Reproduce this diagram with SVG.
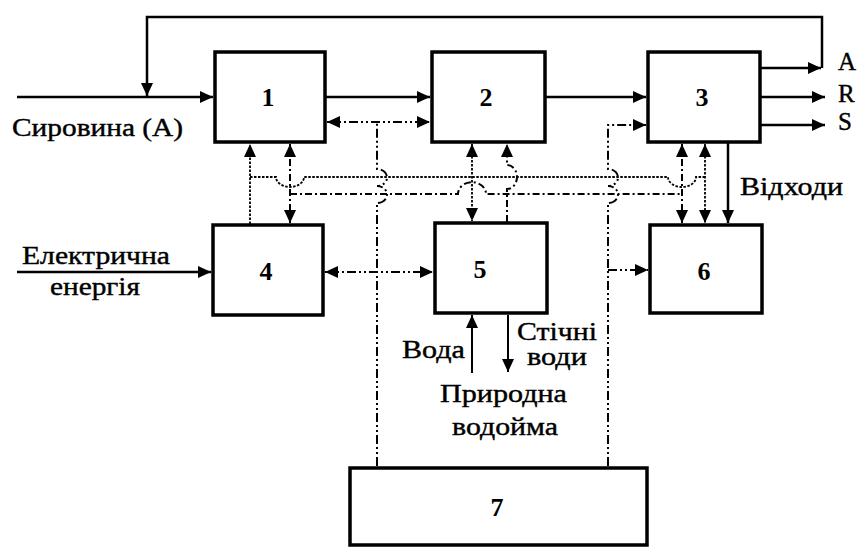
<svg xmlns="http://www.w3.org/2000/svg" width="862" height="548" viewBox="0 0 862 548">
<style>
.box{fill:#fff;stroke:#000;stroke-width:3.5}
.solid{fill:none;stroke:#000;stroke-width:2.5}
.thin{fill:none;stroke:#000;stroke-width:2}
.dot{fill:none;stroke:#000;stroke-width:1.8;stroke-dasharray:2.5 1.5}
.dd{fill:none;stroke:#000;stroke-width:2;stroke-dasharray:7 3 2 3}
.ctrl{fill:none;stroke:#000;stroke-width:2;stroke-dasharray:9 3 2 3 2 3}
.lbl{font-family:"Liberation Serif","DejaVu Serif",serif;font-size:25px;fill:#000;stroke:#000;stroke-width:0.4}
.num{font-family:"Liberation Serif","DejaVu Serif",serif;font-size:26px;font-weight:bold;text-anchor:middle;fill:#000}
</style>
<defs>
<marker id="ah" markerUnits="userSpaceOnUse" markerWidth="14" markerHeight="12" refX="13" refY="6" orient="auto-start-reverse">
<path d="M0,0 L13,6 L0,12 z" fill="#000"/>
</marker>
</defs>
<g id="connectors">
<path class="solid" d="M17,97 L213,97" marker-end="url(#ah)"/>
<path class="solid" d="M760,68 L821,68" marker-end="url(#ah)"/>
<path class="solid" d="M822,68 L822,17 L147,17 L147,96" marker-end="url(#ah)"/>
<path class="solid" d="M760,97 L825,97" marker-end="url(#ah)"/>
<path class="solid" d="M760,125 L825,125" marker-end="url(#ah)"/>
<path class="solid" d="M325,97 L430,97" marker-end="url(#ah)"/>
<path class="solid" d="M545,97 L646,97" marker-end="url(#ah)"/>
<path class="solid" d="M17,272 L211,272" marker-end="url(#ah)"/>
<path class="solid" d="M728,142 L728,223" marker-end="url(#ah)"/>
<path class="thin" d="M472,373 L472,315" marker-end="url(#ah)"/>
<path class="thin" d="M508,315 L508,372" marker-end="url(#ah)"/>
<path class="ctrl" d="M377,466 L377,203 A10,8.5 0 0 0 377,186 A10,8.5 0 0 0 377,169 L377,122"/>
<path class="ctrl" d="M327,122 L430,122" marker-start="url(#ah)" marker-end="url(#ah)"/>
<path class="ctrl" d="M325,272 L433,272" marker-start="url(#ah)" marker-end="url(#ah)"/>
<path class="ctrl" d="M608,466 L608,203 A10,8.5 0 0 0 608,186 A10,8.5 0 0 0 608,169 L608,125 L646,125" marker-end="url(#ah)"/>
<path class="ctrl" d="M608,270 L648,270" marker-end="url(#ah)"/>
<path class="dot" d="M250,224 L250,144" marker-end="url(#ah)"/>
<path class="dot" d="M250,177 L276,177 A14,10 0 0 0 304,177 L668,177 A14,10 0 0 0 696,177 L705,177"/>
<path class="dot" d="M472,144 L472,221" marker-start="url(#ah)" marker-end="url(#ah)"/>
<path class="dot" d="M705,144 L705,223" marker-start="url(#ah)" marker-end="url(#ah)"/>
<path class="dd" d="M290,144 L290,223" marker-start="url(#ah)" marker-end="url(#ah)"/>
<path class="dd" d="M290,194 L458,194 A13,11 0 0 1 486,194 L682,194"/>
<path class="dd" d="M507,222 L507,189 A10,12 0 0 0 507,165 L507,144" marker-end="url(#ah)"/>
<path class="dd" d="M682,144 L682,223" marker-start="url(#ah)" marker-end="url(#ah)"/>
</g>
<g id="node1"><rect class="box" x="215" y="52" width="110" height="90"/><text class="num" x="268" y="106">1</text></g>
<g id="node2"><rect class="box" x="432" y="52" width="113" height="90"/><text class="num" x="486" y="106">2</text></g>
<g id="node3"><rect class="box" x="648" y="52" width="112" height="90"/><text class="num" x="702" y="106">3</text></g>
<g id="node4"><rect class="box" x="213" y="225" width="110" height="90"/><text class="num" x="266" y="280">4</text></g>
<g id="node5"><rect class="box" x="435" y="223" width="112" height="90"/><text class="num" x="480" y="278">5</text></g>
<g id="node6"><rect class="box" x="650" y="225" width="112" height="88"/><text class="num" x="704" y="280">6</text></g>
<g id="node7"><rect class="box" x="350" y="468" width="297" height="77"/><text class="num" x="497" y="516">7</text></g>
<g id="labels">
<text class="lbl" x="12" y="136" textLength="171" lengthAdjust="spacingAndGlyphs">Сировина (А)</text>
<text class="lbl" x="22" y="264" textLength="148" lengthAdjust="spacingAndGlyphs">Електрична</text>
<text class="lbl" x="50" y="295" textLength="90" lengthAdjust="spacingAndGlyphs">енергія</text>
<text class="lbl" x="740" y="195" textLength="103" lengthAdjust="spacingAndGlyphs">Відходи</text>
<text class="lbl" x="402" y="358" textLength="63" lengthAdjust="spacingAndGlyphs">Вода</text>
<text class="lbl" x="517" y="340" textLength="80" lengthAdjust="spacingAndGlyphs">Стічні</text>
<text class="lbl" x="527" y="365" textLength="60" lengthAdjust="spacingAndGlyphs">води</text>
<text class="lbl" x="440" y="402" textLength="127" lengthAdjust="spacingAndGlyphs">Природна</text>
<text class="lbl" x="452" y="435" textLength="106" lengthAdjust="spacingAndGlyphs">водойма</text>
<text class="lbl" x="838" y="70">A</text>
<text class="lbl" x="838" y="102">R</text>
<text class="lbl" x="838" y="130">S</text>
</g>
</svg>
